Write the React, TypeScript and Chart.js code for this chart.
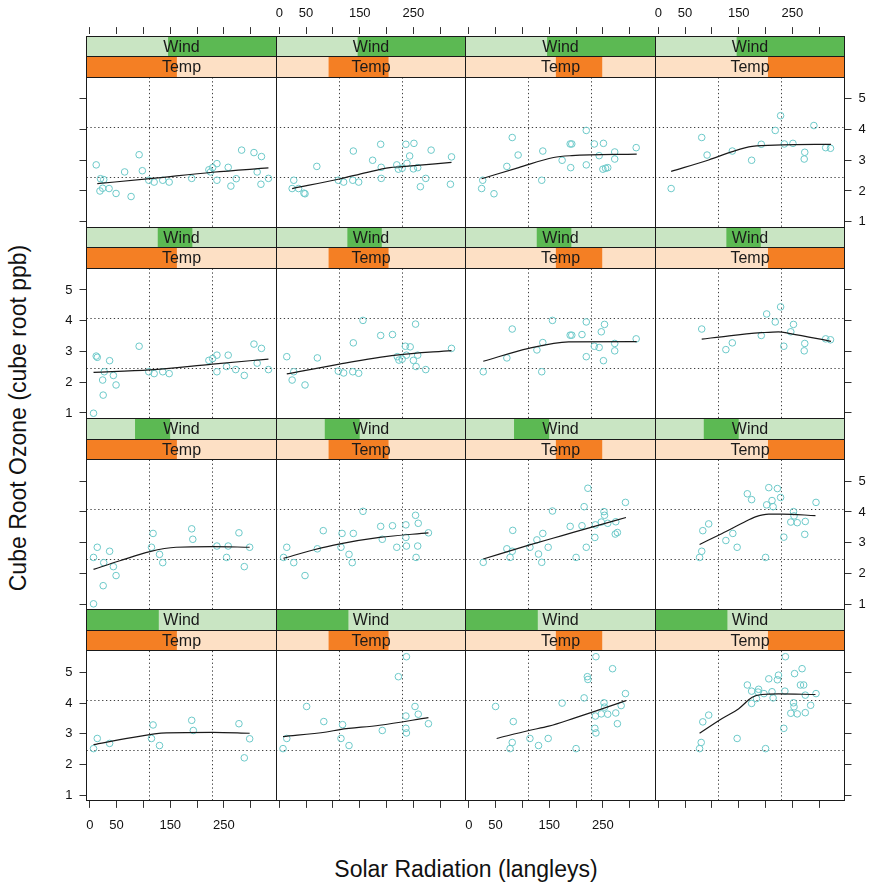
import React, { useEffect, useRef } from 'react';
import { Chart, registerables } from 'chart.js';
Chart.register(...registerables);

// ---------- axes ----------
const X_MIN = -6.08;
const X_MAX = 347.08;
const Y_MIN = 0.819;
const Y_MAX = 5.699;
const xTickValues = [0, 50, 100, 150, 200, 250, 300];
const xTickLabels = ['0', '50', '', '150', '', '250', ''];
const yTickValues = [1, 2, 3, 4, 5];
const yTickLabels = ['1', '2', '3', '4', '5'];
const xRefLines = [111.6, 229.4];
const yRefLines = [2.446, 4.072];

// ---------- shingles (strips) ----------
const windRange = [2.3, 20.7];
const windLevels = [[10.2, 20.7], [9.2, 12.55], [7.0, 10.4], [2.3, 9.3]]; // rows, top to bottom
const tempRange = [56.5, 97.5];
const tempLevels = [[56.5, 76.0], [67.8, 80.8], [76.0, 86.0], [80.9, 97.5]]; // columns, left to right

// ---------- data: row 1 (top) ----------
const r1c1Solar = [12, 20, 26, 19, 24, 36, 49, 77, 65, 92, 98, 110, 120, 136, 148, 190, 222, 225, 229, 237, 237, 258, 263, 273, 283, 306, 312, 320, 319, 333];
const r1c1Ozone = [2.85, 2.40, 2.37, 2.00, 2.09, 2.08, 1.92, 1.82, 2.62, 3.18, 2.66, 2.35, 2.29, 2.35, 2.29, 2.41, 2.69, 2.62, 2.76, 2.89, 2.35, 2.77, 2.16, 2.40, 3.33, 3.25, 2.62, 3.12, 2.22, 2.41];
const r1c1FitSolar = [14, 112, 229, 333];
const r1c1FitOzone = [2.24, 2.40, 2.61, 2.75];

const r1c2Solar = [27, 24, 36, 48, 46, 70, 110, 120, 137, 148, 138, 174, 189, 190, 190, 219, 222, 229, 236, 238, 243, 251, 250, 258, 263, 273, 283, 319, 321];
const r1c2Ozone = [2.35, 2.08, 2.08, 1.91, 1.93, 2.80, 2.35, 2.29, 2.35, 2.29, 3.30, 3.00, 3.52, 2.77, 2.41, 2.85, 2.71, 2.74, 3.52, 2.90, 3.14, 3.55, 2.72, 2.76, 2.14, 2.41, 3.33, 2.22, 3.11];
const r1c2FitSolar = [24, 112, 162, 206, 229, 321];
const r1c2FitOzone = [2.08, 2.39, 2.60, 2.76, 2.79, 2.93];

const r1c3Solar = [26, 24, 47, 71, 81, 92, 136, 138, 174, 190, 189, 192, 219, 219, 234, 243, 251, 250, 259, 255, 272, 272, 312];
const r1c3Ozone = [2.35, 2.08, 1.91, 2.80, 3.74, 3.17, 2.35, 3.30, 3.00, 2.76, 3.53, 3.53, 3.97, 2.85, 3.53, 3.15, 3.55, 2.71, 2.76, 2.74, 3.27, 3.04, 3.41];
const r1c3FitSolar = [24, 93, 158, 192, 313];
const r1c3FitOzone = [2.40, 2.76, 3.09, 3.15, 3.20];

const r1c4Solar = [24, 81, 91, 138, 174, 192, 218, 228, 235, 251, 273, 272, 290, 312, 321];
const r1c4Ozone = [2.08, 3.74, 3.17, 3.30, 3.00, 3.52, 3.97, 4.45, 3.53, 3.55, 3.26, 3.04, 4.13, 3.41, 3.39];
const r1c4FitSolar = [24, 94, 138, 175, 231, 322];
const r1c4FitOzone = [2.64, 3.01, 3.28, 3.45, 3.50, 3.52];

// ---------- row 2 ----------
const r2c1Solar = [12, 14, 37, 27, 24, 44, 49, 25, 7, 92, 110, 120, 136, 148, 222, 229, 237, 237, 255, 258, 272, 288, 306, 320, 312, 333];
const r2c1Ozone = [2.85, 2.81, 2.70, 2.34, 2.07, 2.22, 1.91, 1.58, 0.99, 3.17, 2.34, 2.28, 2.34, 2.28, 2.71, 2.77, 2.88, 2.34, 2.51, 2.88, 2.41, 2.22, 3.24, 3.10, 2.62, 2.41];
const r2c1FitSolar = [7, 112, 229, 333];
const r2c1FitOzone = [2.32, 2.40, 2.59, 2.75];

const r2c2Solar = [14, 27, 24, 48, 71, 110, 120, 137, 148, 138, 156, 189, 211, 220, 223, 229, 235, 244, 237, 254, 258, 250, 255, 273, 321];
const r2c2Ozone = [2.83, 2.34, 2.07, 1.91, 2.79, 2.36, 2.30, 2.34, 2.29, 3.28, 4.01, 3.52, 3.55, 2.83, 2.72, 2.75, 3.17, 3.15, 2.88, 3.89, 2.88, 2.71, 2.51, 2.41, 3.10];
const r2c2FitSolar = [14, 112, 218, 321];
const r2c2FitOzone = [2.27, 2.59, 2.88, 3.03];

const r2c3Solar = [27, 71, 81, 127, 138, 136, 156, 189, 192, 211, 219, 219, 234, 243, 247, 253, 251, 272, 272, 312];
const r2c3Ozone = [2.34, 2.79, 3.73, 3.05, 3.29, 2.34, 4.01, 3.53, 3.53, 3.55, 3.96, 2.83, 3.17, 3.13, 3.64, 3.88, 2.70, 3.26, 3.02, 3.41];
const r2c3FitSolar = [27, 112, 186, 313];
const r2c3FitOzone = [2.68, 3.10, 3.31, 3.32];

const r2c4Solar = [81, 126, 138, 192, 202, 218, 228, 234, 247, 252, 273, 272, 312, 321];
const r2c4Ozone = [3.73, 3.06, 3.28, 3.52, 4.22, 3.96, 4.45, 3.17, 3.64, 3.88, 3.26, 3.02, 3.41, 3.38];
const r2c4FitSolar = [81, 132, 193, 224, 246, 322];
const r2c4FitOzone = [3.40, 3.51, 3.61, 3.64, 3.58, 3.33];

// ---------- row 3 ----------
const r3c1Solar = [14, 7, 26, 37, 44, 49, 25, 7, 118, 115, 130, 136, 190, 192, 237, 258, 255, 278, 298, 288];
const r3c1Ozone = [2.85, 2.52, 2.35, 2.72, 2.22, 1.93, 1.60, 1.01, 3.30, 2.85, 2.62, 2.35, 3.45, 3.11, 2.89, 2.89, 2.52, 3.32, 2.85, 2.22];
const r3c1FitSolar = [7, 56, 112, 161, 229, 298];
const r3c1FitOzone = [2.13, 2.41, 2.71, 2.85, 2.87, 2.85];

const r3c2Solar = [14, 8, 27, 48, 71, 82, 115, 117, 130, 136, 138, 156, 189, 192, 211, 219, 236, 236, 237, 254, 259, 258, 255, 278];
const r3c2Ozone = [2.85, 2.52, 2.35, 1.93, 2.80, 3.39, 2.85, 3.30, 2.62, 2.35, 3.30, 4.02, 3.53, 3.11, 3.55, 2.85, 3.58, 3.17, 2.89, 3.89, 3.63, 2.89, 2.52, 3.32];
const r3c2FitSolar = [8, 63, 113, 187, 278];
const r3c2FitOzone = [2.49, 2.76, 2.96, 3.17, 3.32];

const r3c3Solar = [27, 71, 81, 77, 82, 114, 127, 130, 136, 138, 148, 156, 189, 200, 211, 215, 219, 222, 236, 235, 247, 253, 252, 259, 274, 273, 277, 292];
const r3c3Ozone = [2.36, 2.80, 2.72, 2.52, 3.40, 2.85, 3.09, 2.63, 2.36, 3.30, 2.85, 4.03, 3.53, 2.52, 3.55, 4.17, 2.85, 4.77, 3.58, 3.17, 3.67, 3.89, 4.01, 3.63, 3.68, 3.28, 3.33, 4.31];
const r3c3FitSolar = [27, 112, 174, 236, 293];
const r3c3FitOzone = [2.47, 2.92, 3.23, 3.54, 3.82];

const r3c4Solar = [77, 81, 83, 94, 126, 139, 147, 166, 174, 200, 202, 206, 212, 214, 222, 228, 234, 252, 253, 247, 259, 274, 273, 294];
const r3c4Ozone = [2.52, 2.72, 3.39, 3.61, 3.07, 3.30, 2.85, 4.59, 4.40, 2.52, 4.23, 4.79, 4.37, 4.17, 4.76, 4.47, 3.18, 4.01, 3.87, 3.67, 3.65, 3.69, 3.27, 4.31];
const r3c4FitSolar = [77, 119, 156, 181, 206, 231, 293];
const r3c4FitOzone = [2.94, 3.30, 3.63, 3.84, 3.93, 3.93, 3.88];

// ---------- row 4 (bottom) ----------
const r4c1Solar = [7, 14, 37, 115, 118, 130, 190, 193, 278, 298, 288];
const r4c1Ozone = [2.52, 2.85, 2.69, 2.85, 3.29, 2.62, 3.44, 3.11, 3.33, 2.84, 2.22];
const r4c1FitSolar = [7, 75, 143, 229, 298];
const r4c1FitOzone = [2.65, 2.87, 3.03, 3.05, 3.02];

const r4c2Solar = [7, 14, 51, 83, 115, 118, 130, 192, 222, 237, 236, 236, 237, 253, 259, 278];
const r4c2Ozone = [2.52, 2.85, 3.89, 3.40, 2.85, 3.30, 2.62, 3.11, 4.86, 5.51, 3.58, 3.18, 3.03, 3.89, 3.64, 3.33];
const r4c2FitSolar = [7, 88, 113, 187, 278];
const r4c2FitOzone = [2.91, 3.06, 3.14, 3.28, 3.53];

const r4c3Solar = [50, 83, 81, 77, 114, 130, 148, 174, 200, 215, 221, 222, 237, 236, 235, 237, 247, 252, 253, 259, 268, 274, 277, 284, 292];
const r4c3Ozone = [3.89, 3.40, 2.72, 2.52, 2.85, 2.62, 2.85, 4.00, 2.52, 4.17, 4.86, 4.77, 5.51, 3.58, 3.18, 3.03, 3.65, 4.01, 3.87, 3.64, 5.12, 3.68, 3.33, 3.92, 4.31];
const r4c3FitSolar = [52, 112, 149, 198, 236, 293];
const r4c3FitOzone = [2.85, 3.11, 3.25, 3.52, 3.74, 4.08];

const r4c4Solar = [77, 80, 83, 94, 147, 166, 174, 174, 183, 187, 186, 197, 200, 206, 212, 214, 222, 224, 234, 236, 237, 247, 252, 253, 254, 259, 265, 271, 268, 274, 274, 284, 294];
const r4c4Ozone = [2.52, 2.72, 3.39, 3.61, 2.85, 4.59, 3.99, 4.39, 4.15, 4.45, 4.36, 4.31, 2.52, 4.79, 4.37, 4.17, 4.76, 4.91, 3.18, 4.39, 5.51, 3.67, 4.01, 3.88, 4.96, 3.65, 4.59, 4.59, 5.12, 3.69, 4.26, 3.93, 4.31];
const r4c4FitSolar = [77, 119, 150, 175, 193, 224, 293];
const r4c4FitOzone = [3.02, 3.50, 3.82, 4.19, 4.28, 4.30, 4.28];

const panels = [
  [
    [r1c1Solar, r1c1Ozone, r1c1FitSolar, r1c1FitOzone],
    [r1c2Solar, r1c2Ozone, r1c2FitSolar, r1c2FitOzone],
    [r1c3Solar, r1c3Ozone, r1c3FitSolar, r1c3FitOzone],
    [r1c4Solar, r1c4Ozone, r1c4FitSolar, r1c4FitOzone],
  ],
  [
    [r2c1Solar, r2c1Ozone, r2c1FitSolar, r2c1FitOzone],
    [r2c2Solar, r2c2Ozone, r2c2FitSolar, r2c2FitOzone],
    [r2c3Solar, r2c3Ozone, r2c3FitSolar, r2c3FitOzone],
    [r2c4Solar, r2c4Ozone, r2c4FitSolar, r2c4FitOzone],
  ],
  [
    [r3c1Solar, r3c1Ozone, r3c1FitSolar, r3c1FitOzone],
    [r3c2Solar, r3c2Ozone, r3c2FitSolar, r3c2FitOzone],
    [r3c3Solar, r3c3Ozone, r3c3FitSolar, r3c3FitOzone],
    [r3c4Solar, r3c4Ozone, r3c4FitSolar, r3c4FitOzone],
  ],
  [
    [r4c1Solar, r4c1Ozone, r4c1FitSolar, r4c1FitOzone],
    [r4c2Solar, r4c2Ozone, r4c2FitSolar, r4c2FitOzone],
    [r4c3Solar, r4c3Ozone, r4c3FitSolar, r4c3FitOzone],
    [r4c4Solar, r4c4Ozone, r4c4FitSolar, r4c4FitOzone],
  ],
];

// ---------- styles / layout ----------
const FONT = "'Liberation Sans', Arial, Helvetica, sans-serif";
const POINT_COLOR = '#6cc9c9';
const LINE_COLOR = '#1a1a1a';
const FRAME_COLOR = '#1a1a1a';
const WIND_BG = '#c9e5c3';
const WIND_FG = '#5cb953';
const TEMP_BG = '#fde0c5';
const TEMP_FG = '#f47f24';

const PX0 = 86.5;
const PW = 189.5;
const PY0 = 77.3;
const PH = 150;
const SH = 20.6;
const RS = PH + 2 * SH;
const M = 20;

const tickFont = { family: FONT, size: 13 };

const xLabel = (v: number) => {
  const i = xTickValues.indexOf(v);
  return i >= 0 ? xTickLabels[i] : '';
};
const yLabel = (v: number) => {
  const i = yTickValues.indexOf(v);
  return i >= 0 ? yTickLabels[i] : '';
};

const refPlugin = {
  id: 'refLines',
  beforeDatasetsDraw(chart: any) {
    const { ctx, chartArea: a, scales } = chart;
    ctx.save();
    ctx.strokeStyle = 'rgba(30,30,30,0.85)';
    ctx.lineWidth = 1;
    ctx.setLineDash([1.3, 2.6]);
    xRefLines.forEach((v) => {
      const p = Math.round(scales.x.getPixelForValue(v) - 0.5) + 0.5;
      ctx.beginPath();
      ctx.moveTo(p, a.top);
      ctx.lineTo(p, a.bottom);
      ctx.stroke();
    });
    yRefLines.forEach((v) => {
      const p = Math.round(scales.y.getPixelForValue(v) - 0.5) + 0.5;
      ctx.beginPath();
      ctx.moveTo(a.left, p);
      ctx.lineTo(a.right, p);
      ctx.stroke();
    });
    ctx.restore();
  },
};

const stripPlugin = {
  id: 'strips',
  afterDraw(chart: any, _args: any, opts: any) {
    const { ctx, chartArea: a } = chart;
    const xl = Math.round(a.left - 0.5) + 0.5;
    const xr = Math.round(a.right - 0.5) + 0.5;
    const w = xr - xl;
    const rows = [
      { y0: a.top - 2 * SH, y1: a.top - SH, bg: WIND_BG, fg: WIND_FG, lv: opts.wind, rg: windRange, label: 'Wind' },
      { y0: a.top - SH, y1: a.top, bg: TEMP_BG, fg: TEMP_FG, lv: opts.temp, rg: tempRange, label: 'Temp' },
    ];
    ctx.save();
    rows.forEach((s) => {
      const y0 = Math.round(s.y0 - 0.5) + 0.5;
      const y1 = Math.round(s.y1 - 0.5) + 0.5;
      ctx.fillStyle = s.bg;
      ctx.fillRect(xl, y0, w, y1 - y0);
      const f0 = (s.lv[0] - s.rg[0]) / (s.rg[1] - s.rg[0]);
      const f1 = (s.lv[1] - s.rg[0]) / (s.rg[1] - s.rg[0]);
      ctx.fillStyle = s.fg;
      ctx.fillRect(xl + f0 * w, y0, (f1 - f0) * w, y1 - y0);
      ctx.fillStyle = '#1a1a1a';
      ctx.font = `16px ${FONT}`;
      ctx.textAlign = 'center';
      ctx.textBaseline = 'middle';
      ctx.fillText(s.label, (xl + xr) / 2, (y0 + y1) / 2 + 1);
      ctx.strokeStyle = FRAME_COLOR;
      ctx.lineWidth = 1;
      ctx.strokeRect(xl, y0, w, y1 - y0);
    });
    ctx.restore();
  },
};

function Panel({ r, c }: { r: number; c: number }) {
  const ref = useRef<HTMLCanvasElement | null>(null);
  const pl = PX0 + c * PW;
  const pr = pl + PW;
  const pt = PY0 + r * RS;
  const pb = pt + PH;
  const cl = c === 0 ? Math.floor(pl) - 45 : Math.floor(pl) - M;
  const cr = c === 3 ? Math.min(870, Math.ceil(pr) + 25) : Math.ceil(pr) + M;
  const ct = r === 0 ? 0 : Math.floor(pt - 2 * SH) - M;
  const cb = r === 3 ? Math.min(886, Math.ceil(pb) + 40) : Math.ceil(pb) + M;

  useEffect(() => {
    const [solar, ozone, fitSolar, fitOzone] = panels[r][c];
    const leftW = pl - cl;
    const rightW = cr - pr;
    const bottomH = cb - pb;
    const spacerH = r === 0 ? 2 * SH + 2 : pt - ct;
    const topH = r === 0 ? pt - spacerH - ct : 0;

    const xAxis = (position: string, ticksOn: boolean, labelsOn: boolean, size: number, weight: number, border: boolean, pad: number) => ({
      type: 'linear',
      position,
      min: X_MIN,
      max: X_MAX,
      weight,
      afterBuildTicks: (s: any) => {
        s.ticks = xTickValues.map((v) => ({ value: v }));
      },
      afterFit: (s: any) => {
        s.height = size;
      },
      ticks: { display: labelsOn, callback: (v: number) => xLabel(v), font: tickFont, color: '#111', padding: pad, maxRotation: 0, autoSkip: false },
      grid: { display: ticksOn, drawOnChartArea: false, drawTicks: true, tickLength: 7, color: '#333', lineWidth: 1 },
      border: { display: border, color: FRAME_COLOR, width: 1 },
    });
    const yAxis = (position: string, ticksOn: boolean, labelsOn: boolean, size: number) => ({
      type: 'linear',
      position,
      min: Y_MIN,
      max: Y_MAX,
      afterBuildTicks: (s: any) => {
        s.ticks = yTickValues.map((v) => ({ value: v }));
      },
      afterFit: (s: any) => {
        s.width = size;
      },
      ticks: { display: labelsOn, callback: (v: number) => yLabel(v), font: tickFont, color: '#111', padding: 7, autoSkip: false },
      grid: { display: ticksOn, drawOnChartArea: false, drawTicks: true, tickLength: 7, color: '#333', lineWidth: 1 },
      border: { display: true, color: FRAME_COLOR, width: 1 },
    });

    const scales: any = {
      x: xAxis('bottom', r === 3, r === 3 && c % 2 === 0, bottomH, 0, true, 10),
      xs: {
        type: 'linear',
        position: 'top',
        weight: 0,
        afterFit: (s: any) => {
          s.height = spacerH;
        },
        ticks: { display: false },
        grid: { display: false },
        border: { display: true, color: FRAME_COLOR, width: 1 },
      },
      y: yAxis('left', c === 0, c === 0 && r % 2 === 1, leftW),
      y2: yAxis('right', c === 3, c === 3 && r % 2 === 0, rightW),
    };
    if (r === 0) {
      scales.x2 = xAxis('top', true, c % 2 === 1, topH, 1, false, 6);
    }

    const chart = new Chart(ref.current as HTMLCanvasElement, {
      type: 'scatter',
      data: {
        datasets: [
          {
            data: fitSolar.map((x, i) => ({ x, y: fitOzone[i] })),
            showLine: true,
            pointRadius: 0,
            borderColor: LINE_COLOR,
            borderWidth: 1.2,
            cubicInterpolationMode: 'monotone',
            fill: false,
            xAxisID: 'x',
            yAxisID: 'y',
          },
          {
            data: solar.map((x, i) => ({ x, y: ozone[i] })),
            showLine: false,
            pointStyle: 'circle',
            pointRadius: 3.3,
            pointBorderWidth: 1,
            pointBorderColor: POINT_COLOR,
            pointBackgroundColor: 'rgba(0,0,0,0)',
            xAxisID: 'x',
            yAxisID: 'y',
          },
        ],
      } as any,
      options: {
        responsive: false,
        animation: false,
        devicePixelRatio: 1,
        layout: { padding: 0, autoPadding: false },
        events: [],
        plugins: {
          legend: { display: false },
          tooltip: { enabled: false },
          strips: { wind: windLevels[r], temp: tempLevels[c] },
        } as any,
        scales,
      },
      plugins: [refPlugin, stripPlugin],
    });
    return () => chart.destroy();
  }, []);

  return (
    <canvas
      ref={ref}
      width={cr - cl}
      height={cb - ct}
      style={{ position: 'absolute', left: cl, top: ct, width: cr - cl, height: cb - ct }}
    />
  );
}

export default function App() {
  const cells: any[] = [];
  for (let r = 0; r < 4; r++) for (let c = 0; c < 4; c++) cells.push(<Panel key={`${r}-${c}`} r={r} c={c} />);
  return (
    <div style={{ position: 'absolute', left: 0, top: 0, width: 870, height: 886, background: '#fff', overflow: 'hidden', fontFamily: FONT }}>
      {cells}
      <div
        style={{
          position: 'absolute',
          left: 18,
          top: 418,
          transform: 'translate(-50%, -50%) rotate(-90deg)',
          whiteSpace: 'nowrap',
          fontSize: 23,
          color: '#111',
        }}
      >
        Cube Root Ozone (cube root ppb)
      </div>
      <div
        style={{
          position: 'absolute',
          left: 466,
          top: 869,
          transform: 'translate(-50%, -50%)',
          whiteSpace: 'nowrap',
          fontSize: 23,
          color: '#111',
        }}
      >
        Solar Radiation (langleys)
      </div>
    </div>
  );
}
